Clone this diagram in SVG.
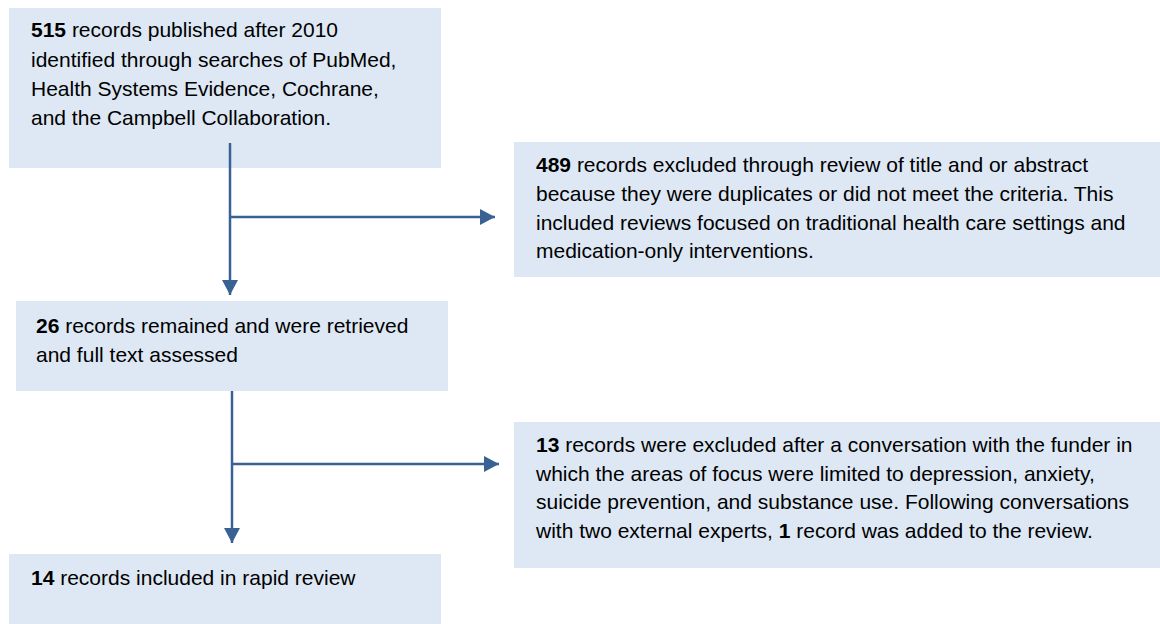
<svg xmlns="http://www.w3.org/2000/svg" width="1160" height="624" viewBox="0 0 1160 624">
<style>
.box{fill:#dde8f4;stroke:none}
text{font-family:"Liberation Sans",Arial,sans-serif;font-size:21px;fill:#000}
.b{font-weight:bold}
.ln{stroke:#3a6194;stroke-width:2.5;fill:none}
</style>
<defs>
<marker id="ah" markerWidth="16" markerHeight="16" viewBox="0 0 16 16" refX="15" refY="8" orient="auto" markerUnits="userSpaceOnUse">
<path d="M0,0 L15,8 L0,16 Z" fill="#3a6194"/>
</marker>
</defs>
<rect width="1160" height="624" fill="#fff"/>
<g id="n1">
<rect class="box" x="9" y="8" width="432" height="160"/>
<text x="31" y="37"><tspan class="b">515</tspan> records published after 2010</text>
<text x="31" y="67">identified through searches of PubMed,</text>
<text x="31" y="96">Health Systems Evidence, Cochrane,</text>
<text x="31" y="125">and the Campbell Collaboration.</text>
</g>
<g id="n2">
<rect class="box" x="514" y="142" width="646" height="135"/>
<text x="536" y="172"><tspan class="b">489</tspan> records excluded through review of title and or abstract</text>
<text x="536" y="201">because they were duplicates or did not meet the criteria. This</text>
<text x="536" y="230">included reviews focused on traditional health care settings and</text>
<text x="536" y="258">medication-only interventions.</text>
</g>
<g id="n3">
<rect class="box" x="16" y="301" width="432" height="90"/>
<text x="36" y="333"><tspan class="b">26</tspan> records remained and were retrieved</text>
<text x="36" y="362">and full text assessed</text>
</g>
<g id="n4">
<rect class="box" x="514" y="422" width="646" height="146"/>
<text x="536" y="452"><tspan class="b">13</tspan> records were excluded after a conversation with the funder in</text>
<text x="536" y="481">which the areas of focus were limited to depression, anxiety,</text>
<text x="536" y="509">suicide prevention, and substance use. Following conversations</text>
<text x="536" y="538">with two external experts, <tspan class="b">1</tspan> record was added to the review.</text>
</g>
<g id="n5">
<rect class="box" x="9" y="554" width="432" height="70"/>
<text x="31" y="585"><tspan class="b">14</tspan> records included in rapid review</text>
</g>
<g id="connectors">
<path class="ln" d="M230,143 V295" marker-end="url(#ah)"/>
<path class="ln" d="M231,217 H495" marker-end="url(#ah)"/>
<path class="ln" d="M232,391 V543" marker-end="url(#ah)"/>
<path class="ln" d="M233,464 H499" marker-end="url(#ah)"/>
</g>
</svg>
